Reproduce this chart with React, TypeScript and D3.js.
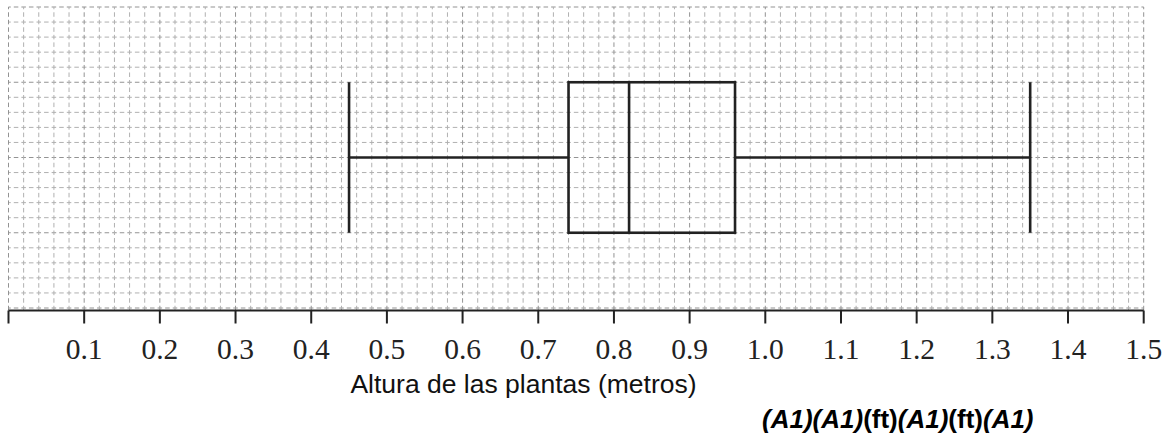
import * as d3 from 'd3';

// axis ticks (metres) and their labels
const tickValues = [0, 0.1, 0.2, 0.3, 0.4, 0.5, 0.6, 0.7, 0.8, 0.9, 1.0, 1.1, 1.2, 1.3, 1.4, 1.5];
const tickLabels = ['', '0.1', '0.2', '0.3', '0.4', '0.5', '0.6', '0.7', '0.8', '0.9', '1.0', '1.1', '1.2', '1.3', '1.4', '1.5'];

// five-number summary of the plant heights
const boxStats = [0.45, 0.74, 0.82, 0.96, 1.35];

// grid: minor step on x and the number of rows on the paper
const gridStepX = 0.02;
const gridRows = 20;

const footerParts = [
  { text: '(A1)', italic: true },
  { text: '(A1)', italic: true },
  { text: '(ft)', italic: false },
  { text: '(A1)', italic: true },
  { text: '(ft)', italic: false },
  { text: '(A1)', italic: true },
];

const width = 1174;
const height = 438;

const App = () => {
  const x = d3.scaleLinear().domain([0, 1.5]).range([8.5, 1143.7]);
  const y = d3.scaleLinear().domain([0, gridRows]).range([7, 308]);
  const axisY = 310.5;

  const cellX = x(gridStepX) - x(0);
  const cellY = y(1) - y(0);
  const dashX = `${cellX * 0.3} ${cellX / 2 - cellX * 0.3}`;
  const dashY = `${cellY * 0.3} ${cellY / 2 - cellY * 0.3}`;

  const cols = d3.range(0, Math.round(1.5 / gridStepX) + 1).map((i) => i * gridStepX);
  const rows = d3.range(0, gridRows + 1);

  const [lo, q1, med, q3, hi] = boxStats;
  const boxTop = y(5);
  const boxBottom = y(15);
  const mid = y(10);

  return (
    <svg
      width={width}
      height={height}
      style={{ position: 'absolute', left: 0, top: 0, background: '#fff' }}
    >
      <g fill="none">
        {rows.map((r) => (
          <line
            key={`r${r}`}
            x1={x(0)}
            x2={x(1.5)}
            y1={y(r)}
            y2={y(r)}
            stroke={r % 5 === 0 ? '#939393' : '#b0b0b0'}
            strokeWidth={1}
            strokeDasharray={dashX}
            strokeDashoffset={cellX * 0.15}
          />
        ))}
        {cols.map((c, i) => (
          <line
            key={`c${i}`}
            x1={x(c)}
            x2={x(c)}
            y1={y(0)}
            y2={axisY}
            stroke={i % 5 === 0 ? '#939393' : '#b0b0b0'}
            strokeWidth={1}
            strokeDasharray={dashY}
            strokeDashoffset={cellY * 0.15}
          />
        ))}
      </g>

      <g stroke="#222" strokeWidth={2.6} fill="none">
        <line x1={x(lo)} x2={x(q1)} y1={mid} y2={mid} />
        <line x1={x(q3)} x2={x(hi)} y1={mid} y2={mid} />
        <line x1={x(lo)} x2={x(lo)} y1={boxTop} y2={boxBottom} />
        <line x1={x(hi)} x2={x(hi)} y1={boxTop} y2={boxBottom} />
        <rect x={x(q1)} y={boxTop} width={x(q3) - x(q1)} height={boxBottom - boxTop} />
        <line x1={x(med)} x2={x(med)} y1={boxTop} y2={boxBottom} />
      </g>

      <g stroke="#222" strokeWidth={2}>
        <line x1={x(0)} x2={x(1.5)} y1={axisY} y2={axisY} />
        {tickValues.map((t) => (
          <line key={t} x1={x(t)} x2={x(t)} y1={axisY} y2={axisY + 13} />
        ))}
      </g>
      <g fontFamily="'Liberation Serif', 'Times New Roman', serif" fontSize={29.5} fill="#222" textAnchor="middle">
        {tickValues.map((t, i) => (
          <text key={t} x={x(t)} y={359}>
            {tickLabels[i]}
          </text>
        ))}
      </g>

      <text
        x={523.5}
        y={393}
        textAnchor="middle"
        fontFamily="'Liberation Sans', Arial, sans-serif"
        fontSize={26.5}
        fill="#111"
      >
        Altura de las plantas (metros)
      </text>

      <text x={762} y={428} fontFamily="'Liberation Sans', Arial, sans-serif" fontSize={26} fontWeight="bold" fill="#000">
        {footerParts.map((p, i) => (
          <tspan key={i} fontStyle={p.italic ? 'italic' : 'normal'}>
            {p.text}
          </tspan>
        ))}
      </text>
    </svg>
  );
};

export default App;
